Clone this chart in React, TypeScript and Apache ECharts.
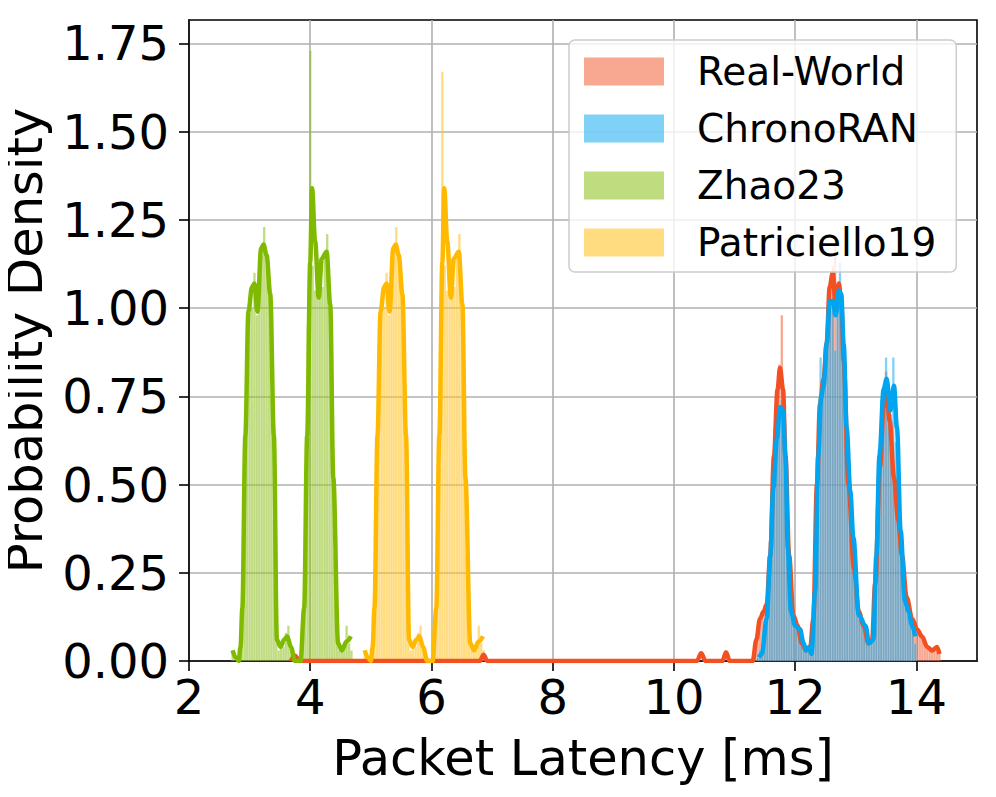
import React, { useEffect, useRef } from 'react';
import * as echarts from 'echarts';

const FONT = "'DejaVu Sans', Verdana, sans-serif";

const xTicks = [2, 4, 6, 8, 10, 12, 14];
const yTicks = [0, 0.25, 0.5, 0.75, 1, 1.25, 1.5, 1.75];
const legendNames = ['Real-World', 'ChronoRAN', 'Zhao23', 'Patriciello19'];

const binWidth = 0.04;

// Histogram bar heights (density), one value per bin starting at *BinStart
const realWorldBinStart = 11.32;
const realWorldBars = [
  0.03, 0.08, 0.12, 0.14, 0.16, 0.22, 0.34, 0.52, 0.66, 0.76,
  0.84, 0.98, 0.72, 0.50, 0.28, 0.16, 0.12, 0.10, 0.08, 0.05,
  0.04, 0.03, 0.04, 0.06, 0.15, 0.40, 0.62, 0.74, 0.80, 0.88,
  0.98, 1.06, 1.12, 1.18, 1.02, 1.06, 0.92, 0.76, 0.56, 0.42,
  0.30, 0.22, 0.16, 0.13, 0.11, 0.10, 0.07, 0.05, 0.06, 0.14,
  0.36, 0.56, 0.68, 0.74, 0.82, 0.72, 0.64, 0.56, 0.46, 0.38,
  0.30, 0.22, 0.17, 0.14, 0.12, 0.10, 0.09, 0.08, 0.07, 0.06,
  0.05, 0.04, 0.03, 0.03, 0.04, 0.03, 0.02,
];

const chronoBinStart = 11.36;
const chronoBars = [
  0.01, 0.03, 0.05, 0.10, 0.16, 0.28, 0.44, 0.58, 0.66, 0.72,
  0.74, 0.64, 0.44, 0.24, 0.14, 0.11, 0.10, 0.09, 0.07, 0.05,
  0.03, 0.04, 0.03, 0.10, 0.32, 0.60, 0.86, 0.76, 0.84, 0.98,
  1.02, 1.00, 0.88, 1.04, 1.13, 0.94, 0.80, 0.62, 0.46, 0.36,
  0.26, 0.16, 0.12, 0.11, 0.10, 0.08, 0.05, 0.06, 0.16, 0.38,
  0.60, 0.74, 0.78, 0.86, 0.72, 0.70, 0.86, 0.62, 0.45, 0.32,
  0.20, 0.15, 0.13, 0.10, 0.08, 0.05,
];

const zhaoBinStart = 2.70;
const zhaoBars = [
  0.03, 0.00, 0.00, 0.03, 0.20, 0.60, 0.95, 1.02, 1.00, 1.10,
  0.98, 1.12, 1.15, 1.23, 1.12, 1.05, 0.75, 0.40, 0.08, 0.03,
  0.05, 0.04, 0.08, 0.10, 0.05, 0.02, 0.00, 0.00, 0.00, 0.08,
  0.40, 0.95, 1.73, 1.12, 1.05, 1.04, 1.14, 1.06, 1.15, 1.21,
  1.02, 0.70, 0.30, 0.06, 0.03, 0.04, 0.05, 0.10, 0.05, 0.03,
];

const patricielloBinStart = 4.88;
const patricielloBars = [
  0.03, 0.00, 0.00, 0.03, 0.20, 0.60, 0.95, 1.02, 1.00, 1.10,
  0.98, 1.12, 1.15, 1.23, 1.12, 1.05, 0.75, 0.40, 0.08, 0.03,
  0.05, 0.04, 0.08, 0.10, 0.05, 0.02, 0.00, 0.00, 0.00, 0.08,
  0.40, 0.55, 1.67, 1.12, 1.05, 1.04, 1.14, 1.06, 1.15, 1.21,
  1.02, 0.70, 0.30, 0.06, 0.03, 0.04, 0.05, 0.10, 0.05, 0.03,
];

// KDE curves [latency ms, density]
const realWorldKde = [
  [3.68, 0], [3.75, 0.015], [3.82, 0], [6.80, 0], [6.86, 0.018], [6.92, 0],
  [10.38, 0], [10.45, 0.022], [10.52, 0], [10.80, 0], [10.86, 0.025], [10.92, 0],
  [11.30, 0], [11.36, 0.06], [11.42, 0.12], [11.48, 0.14], [11.53, 0.16], [11.59, 0.30],
  [11.65, 0.58], [11.71, 0.77], [11.75, 0.83], [11.80, 0.77], [11.84, 0.58], [11.90, 0.30],
  [11.97, 0.13], [12.04, 0.10], [12.11, 0.05], [12.18, 0.03], [12.25, 0.04], [12.30, 0.12],
  [12.36, 0.50], [12.41, 0.73], [12.47, 0.80], [12.52, 0.90], [12.57, 1.06], [12.62, 1.10],
  [12.67, 1.00], [12.72, 1.07], [12.76, 1.02], [12.80, 0.85], [12.88, 0.50], [12.97, 0.26],
  [13.05, 0.14], [13.13, 0.10], [13.21, 0.05], [13.27, 0.06], [13.32, 0.22], [13.40, 0.55],
  [13.46, 0.72], [13.51, 0.76], [13.56, 0.68], [13.63, 0.52], [13.70, 0.40], [13.76, 0.30],
  [13.84, 0.18], [13.93, 0.12], [14.01, 0.09], [14.09, 0.07], [14.18, 0.04], [14.26, 0.03],
  [14.34, 0.04], [14.38, 0.02],
];

const chronoKde = [
  [11.40, 0.01], [11.45, 0.02], [11.53, 0.12], [11.59, 0.30], [11.64, 0.49], [11.70, 0.63],
  [11.75, 0.72], [11.80, 0.71], [11.84, 0.58], [11.88, 0.32], [11.93, 0.14], [12.00, 0.10],
  [12.08, 0.09], [12.14, 0.05], [12.18, 0.03], [12.23, 0.04], [12.27, 0.02], [12.33, 0.20],
  [12.38, 0.58], [12.43, 0.75], [12.47, 0.78], [12.52, 0.90], [12.57, 1.02], [12.62, 1.02],
  [12.67, 0.98], [12.72, 1.05], [12.76, 1.04], [12.80, 0.90], [12.85, 0.66], [12.91, 0.48],
  [12.96, 0.35], [13.05, 0.13], [13.16, 0.10], [13.22, 0.05], [13.29, 0.06], [13.34, 0.30],
  [13.39, 0.58], [13.46, 0.77], [13.51, 0.80], [13.57, 0.71], [13.63, 0.78], [13.68, 0.66],
  [13.74, 0.37], [13.81, 0.17], [13.87, 0.14], [13.93, 0.10], [13.98, 0.07],
];

const zhaoKde = [
  [2.72, 0.03], [2.77, 0.01], [2.82, 0.0], [2.85, 0.04], [2.88, 0.15], [2.93, 0.64],
  [2.98, 0.99], [3.04, 1.06], [3.08, 1.07], [3.13, 0.99], [3.19, 1.17], [3.23, 1.18],
  [3.28, 1.15], [3.34, 1.04], [3.40, 0.64], [3.45, 0.06], [3.51, 0.04], [3.57, 0.06],
  [3.62, 0.07], [3.68, 0.04], [3.75, 0.0], [3.84, 0.0], [3.90, 0.15], [3.95, 0.64],
  [4.00, 1.13], [4.03, 1.34], [4.08, 1.19], [4.14, 1.03], [4.19, 1.14], [4.27, 1.16],
  [4.33, 1.01], [4.38, 0.52], [4.46, 0.05], [4.52, 0.03], [4.60, 0.055], [4.67, 0.07],
];

const patricielloKde = [
  [4.90, 0.03], [4.95, 0.01], [5.00, 0.0], [5.03, 0.04], [5.06, 0.15], [5.11, 0.64],
  [5.16, 0.99], [5.22, 1.06], [5.26, 1.07], [5.31, 0.99], [5.37, 1.17], [5.41, 1.18],
  [5.46, 1.15], [5.52, 1.04], [5.58, 0.64], [5.63, 0.06], [5.69, 0.04], [5.75, 0.06],
  [5.80, 0.07], [5.86, 0.04], [5.93, 0.0], [6.02, 0.0], [6.08, 0.15], [6.13, 0.64],
  [6.18, 1.13], [6.21, 1.34], [6.26, 1.19], [6.32, 1.03], [6.37, 1.14], [6.45, 1.16],
  [6.51, 1.01], [6.56, 0.52], [6.64, 0.05], [6.70, 0.03], [6.78, 0.055], [6.85, 0.07],
];

const lineColors = ['#F25022', '#00A4EF', '#7FBA00', '#FFB900'];
const barColors = [
  'rgba(242,80,34,0.5)',
  'rgba(0,164,239,0.5)',
  'rgba(127,186,0,0.5)',
  'rgba(255,185,0,0.5)',
];

function histSeries(name: string, start: number, heights: number[], color: string) {
  const data = heights.map((h, i) => [start + i * binWidth, start + (i + 1) * binWidth, h]);
  return {
    type: 'custom',
    name,
    data,
    encode: { x: [0, 1], y: 2 },
    clip: true,
    itemStyle: { color },
    renderItem: (params: any, api: any) => {
      const p0 = api.coord([api.value(0), api.value(2)]);
      const p1 = api.coord([api.value(1), 0]);
      return {
        type: 'rect',
        shape: { x: p0[0], y: p0[1], width: p1[0] - p0[0], height: p1[1] - p0[1] },
        style: { fill: color, stroke: 'rgba(255,255,255,0.35)', lineWidth: 0.4 },
      };
    },
  };
}

function kdeSeries(name: string, data: number[][], color: string) {
  return {
    type: 'line',
    name,
    data,
    showSymbol: false,
    symbol: 'none',
    smooth: 0.35,
    smoothMonotone: 'x',
    clip: true,
    lineStyle: { color, width: 4.5 },
    itemStyle: { color },
  };
}

export default function App() {
  const ref = useRef<HTMLDivElement>(null);
  useEffect(() => {
    if (!ref.current) return;
    const chart = echarts.init(ref.current, null, { renderer: 'svg' });
    const option = {
      animation: false,
      backgroundColor: '#ffffff',
      grid: {
        left: 189, right: 19, top: 20, bottom: 136,
        outerBoundsMode: 'none',
        containLabel: false,
        show: true, borderColor: '#000', borderWidth: 1.6, backgroundColor: 'transparent',
      },
      legend: {
        orient: 'vertical',
        left: 569,
        top: 40,
        padding: [12, 20, 10, 15],
        itemWidth: 80,
        itemHeight: 28,
        itemGap: 18,
        selectedMode: false,
        backgroundColor: 'rgba(255,255,255,0.8)',
        borderColor: '#cccccc',
        borderWidth: 1.5,
        borderRadius: 6,
        textStyle: { fontFamily: FONT, fontSize: 39, color: '#000', lineHeight: 28, padding: [0, 0, 0, 28] },
        data: legendNames.map((n, i) => ({ name: n, icon: 'rect', itemStyle: { color: barColors[i], borderWidth: 0 } })),
      },
      xAxis: {
        type: 'value',
        min: 2,
        max: 15,
        name: 'Packet Latency [ms]',
        nameLocation: 'middle',
        nameGap: 72,
        nameTextStyle: { fontFamily: FONT, fontSize: 49.5, color: '#000' },
        axisLine: { show: true, onZero: false, lineStyle: { color: '#000', width: 1.6 } },
        axisTick: { show: true, inside: false, length: 10, lineStyle: { color: '#000', width: 1.6 }, customValues: xTicks },
        axisLabel: { fontFamily: FONT, fontSize: 48, color: '#000', margin: 12, customValues: xTicks },
        splitLine: { show: true, lineStyle: { color: '#b0b0b0', width: 1.6 } },
      },
      yAxis: {
        type: 'value',
        min: 0,
        max: 1.8165,
        name: 'Probability Density',
        nameLocation: 'middle',
        nameGap: 141,
        nameTextStyle: { fontFamily: FONT, fontSize: 49.5, color: '#000', lineHeight: 46 },
        axisLine: { show: true, lineStyle: { color: '#000', width: 1.6 } },
        axisTick: { show: true, inside: false, length: 10, lineStyle: { color: '#000', width: 1.6 }, customValues: yTicks },
        axisLabel: {
          fontFamily: FONT, fontSize: 48, color: '#000', margin: 20, customValues: yTicks,
          formatter: (v: number) => v.toFixed(2),
        },
        splitLine: { show: true, lineStyle: { color: '#b0b0b0', width: 1.6 } },
      },
      series: [
        histSeries('Real-World', realWorldBinStart, realWorldBars, barColors[0]),
        kdeSeries('Real-World KDE', realWorldKde, lineColors[0]),
        histSeries('ChronoRAN', chronoBinStart, chronoBars, barColors[1]),
        kdeSeries('ChronoRAN KDE', chronoKde, lineColors[1]),
        histSeries('Zhao23', zhaoBinStart, zhaoBars, barColors[2]),
        kdeSeries('Zhao23 KDE', zhaoKde, lineColors[2]),
        histSeries('Patriciello19', patricielloBinStart, patricielloBars, barColors[3]),
        kdeSeries('Patriciello19 KDE', patricielloKde, lineColors[3]),
      ],
    };
    chart.setOption(option as any);
    return () => chart.dispose();
  }, []);
  return <div ref={ref} style={{ width: 996, height: 797, margin: -8 }} />;
}
